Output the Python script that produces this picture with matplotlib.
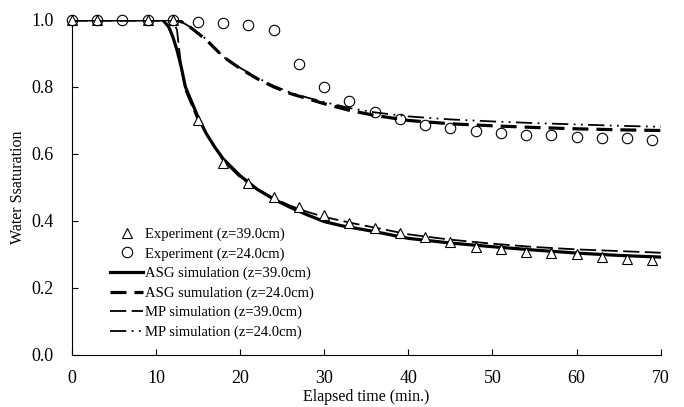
import numpy as np
import matplotlib
matplotlib.use("Agg")
import matplotlib.pyplot as plt

# experimental points
t_exp39 = [0, 3, 9, 12, 15, 18, 21, 24, 27, 30, 33, 36, 39, 42, 45, 48, 51, 54, 57, 60, 63, 66, 69]
s_exp39 = [1.0, 1.0, 1.0, 1.0, 0.70, 0.573, 0.513, 0.472, 0.443, 0.418, 0.395, 0.379, 0.364, 0.352,
           0.338, 0.323, 0.316, 0.308, 0.305, 0.300, 0.292, 0.287, 0.284]
t_exp24 = [0, 3, 6, 9, 12, 15, 18, 21, 24, 27, 30, 33, 36, 39, 42, 45, 48, 51, 54, 57, 60, 63, 66, 69]
s_exp24 = [1.0, 1.0, 1.0, 1.0, 1.0, 0.993, 0.99, 0.985, 0.97, 0.869, 0.80, 0.758, 0.724, 0.703,
           0.687, 0.677, 0.669, 0.662, 0.657, 0.657, 0.652, 0.649, 0.647, 0.642]

# simulations
t_asg39 = [0, 10.8, 11.5, 12, 12.5, 13, 13.5, 14, 15, 16, 17, 18, 20, 22, 24, 26, 28, 30, 32, 36,
           40, 45, 50, 55, 60, 65, 70]
s_asg39 = [1.0, 1.0, 0.98, 0.95, 0.91, 0.86, 0.80, 0.77, 0.71, 0.66, 0.62, 0.585, 0.535, 0.495,
           0.465, 0.44, 0.418, 0.398, 0.386, 0.368, 0.348, 0.334, 0.323, 0.313, 0.304, 0.297, 0.292]
t_mp39 = [0, 12, 12.5, 13, 13.5, 14, 15, 16, 18, 20, 22, 24, 26, 28, 30, 33, 36, 40, 45, 50,
          55, 60, 65, 70]
s_mp39 = [1.0, 1.0, 0.97, 0.86, 0.79, 0.76, 0.70, 0.66, 0.58, 0.53, 0.495, 0.468, 0.445, 0.427,
          0.412, 0.395, 0.38, 0.36, 0.344, 0.332, 0.322, 0.315, 0.31, 0.305]
t_sim24 = [0, 12.5, 13, 14, 15, 16, 18, 20, 22, 24, 26, 28, 30, 33, 36, 40, 45, 50, 55, 60, 65, 70]
s_asg24 = [1.0, 1.0, 0.995, 0.98, 0.96, 0.94, 0.89, 0.855, 0.825, 0.80, 0.78, 0.765, 0.75, 0.73,
           0.715, 0.70, 0.69, 0.684, 0.679, 0.675, 0.672, 0.67]
s_mp24 = [1.0, 1.0, 0.995, 0.98, 0.962, 0.942, 0.89, 0.857, 0.828, 0.803, 0.783, 0.768, 0.755,
          0.737, 0.724, 0.712, 0.703, 0.697, 0.692, 0.688, 0.684, 0.681]

plt.rcParams['font.family'] = ['Liberation Serif', 'DejaVu Serif']

fig = plt.figure(figsize=(6.84, 4.07), dpi=100)
ax = fig.add_axes([0.105, 0.128, 0.861, 0.823])

ax.plot(t_exp39, s_exp39, ls='none', marker='^', ms=6.5, mfc='white', mec='black', mew=0.8,
        clip_on=False, label='Experiment (z=39.0cm)', zorder=3)
ax.plot(t_exp24, s_exp24, ls='none', marker='o', ms=7.5, mfc='none', mec='black', mew=0.8,
        clip_on=False, label='Experiment (z=24.0cm)', zorder=3)
ax.plot(t_asg39, s_asg39, color='black', lw=2.3, label='ASG simulation (z=39.0cm)')
ax.plot(t_sim24, s_asg24, color='black', lw=2.3, dashes=(5, 2.5), label='ASG sumulation (z=24.0cm)')
ax.plot(t_mp39, s_mp39, color='black', lw=1.3, dashes=(9, 3), label='MP simulation (z=39.0cm)')
ax.plot(t_sim24, s_mp24, color='black', lw=1.3, dashes=(9, 3, 1, 3, 1, 3),
        label='MP simulation (z=24.0cm)')

ax.set_xlim(0, 70)
ax.set_ylim(0, 1.0)
ax.set_xticks(np.arange(0, 71, 10))
ax.set_yticks(np.arange(0, 1.01, 0.2))
ax.set_yticklabels(['%.1f' % v for v in np.arange(0, 1.01, 0.2)])
ax.tick_params(direction='in', length=4, width=0.8, labelsize=13)
ax.tick_params(axis='x', pad=11)
ax.tick_params(axis='y', pad=13)
ax.spines['top'].set_visible(False)
ax.spines['right'].set_visible(False)
ax.set_xlabel('Elapsed time (min.)', fontsize=11.5, labelpad=1)
ax.set_ylabel('Water Ssaturation', fontsize=11.5, labelpad=4)

ax.legend(loc='upper left', bbox_to_anchor=(0.052, 0.402), frameon=False, fontsize=10.5,
          handlelength=2.3, handletextpad=0.15, labelspacing=0.42, borderpad=0)

fig.savefig('out.png', dpi=100)
